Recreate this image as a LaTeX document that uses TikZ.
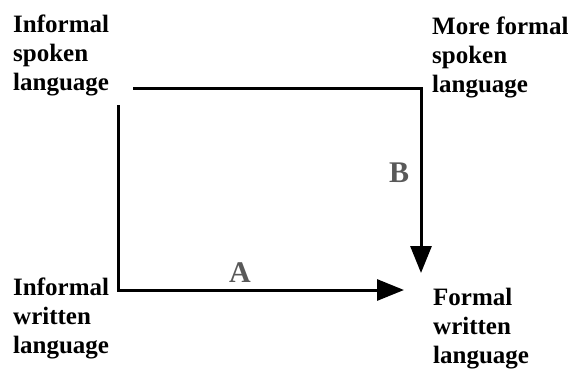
\documentclass[tikz,border=0pt]{standalone}
\usepackage{fontspec}
\setmainfont{Liberation Serif}
\usetikzlibrary{arrows.meta}
\begin{document}
\begin{tikzpicture}[x=1pt,y=-1pt,
  lbl/.style={anchor=base west,inner sep=0pt,align=left,font=\bfseries\fontsize{25}{29}\selectfont},
  letter/.style={inner sep=0pt,anchor=base,text=black!65,font=\bfseries\fontsize{30}{30}\selectfont},
  conn/.style={line width=3pt},
  arr/.style={conn,-{Triangle[length=27pt,width=21pt]}}]
\useasboundingbox (0,0) rectangle (570,370);
\node[lbl] (isl) at (13,90) {Informal\\spoken\\language};
\node[lbl] (msl) at (432,92) {More formal\\spoken\\language};
\node[lbl] (iwl) at (13,353) {Informal\\written\\language};
\node[lbl] (fwl) at (433,363) {Formal\\written\\language};
\node[letter] (A) at (240,282) {A};
\node[letter] (B) at (399,182) {B};
\coordinate (t1) at (133,88);
\coordinate (t2) at (421,88);
\coordinate (tb) at (421,273);
\coordinate (l1) at (118,105);
\coordinate (l2) at (118,290);
\coordinate (la) at (404,290);
\draw[arr,line join=miter] (t1) -- (t2) -- (tb);
\draw[arr,line join=miter] (l1) -- (l2) -- (la);
\end{tikzpicture}
\end{document}
